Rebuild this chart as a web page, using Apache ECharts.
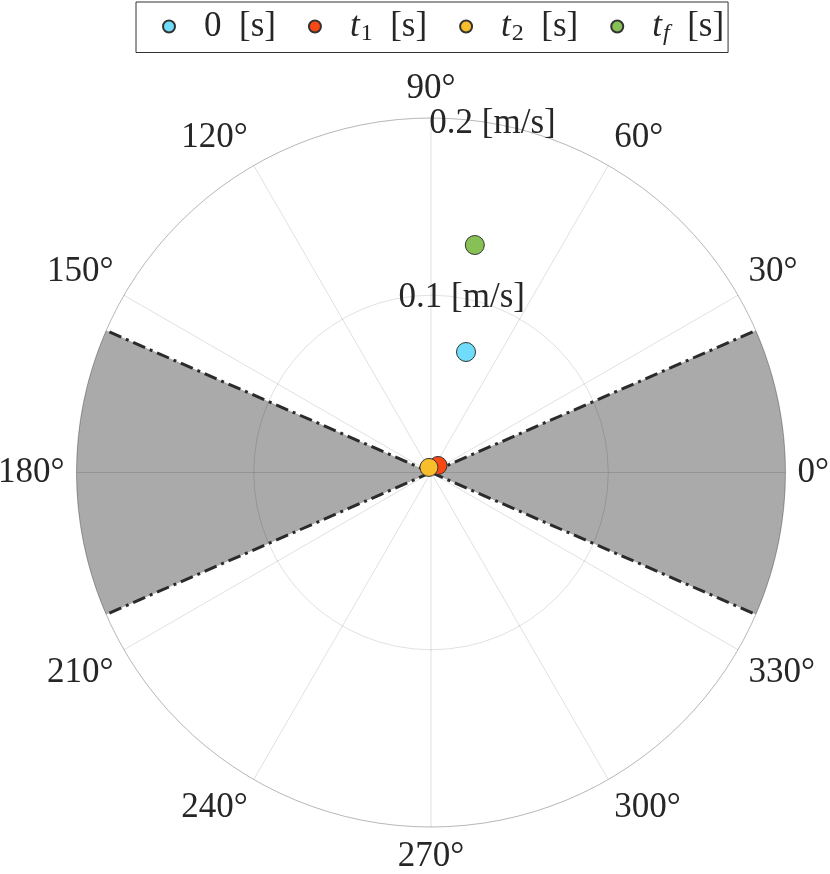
<!DOCTYPE html>
<html>
<head>
<meta charset="utf-8">
<script src="https://cdn.jsdelivr.net/npm/echarts@6/dist/echarts.min.js"></script>
<style>
  html, body { margin: 0; padding: 0; background: #fff; }
  #chart { width: 830px; height: 874px; }
</style>
</head>
<body>
<div id="chart"></div>
<script>
// ---- data ----
const seriesNames = ['0 [s]', 't1 [s]', 't2 [s]', 'tf [s]'];
const seriesColors = ['#6fdcfa', '#fa4814', '#f8bd2a', '#87c155'];
// [radius (m/s), angle (deg)]
const pointValues = [
  [0.0708, 73.8],
  [0.0056, 45],
  [0.0031, 112],
  [0.1307, 79.1]
];
const radiusMax = 0.2;
const radiusTicks = [0.1, 0.2];
const radiusLabelAngle = 80;
const angleTicks = [0, 30, 60, 90, 120, 150, 180, 210, 240, 270, 300, 330];
const wedgeCenters = [0, 180];
const wedgeHalfWidth = 23.6;

const FONT = 'Liberation Serif';
const TXT = '#262626';

const chart = echarts.init(document.getElementById('chart'));

// wedge custom series
const wedgeSeries = {
  type: 'custom',
  coordinateSystem: 'polar',
  z: -1,
  silent: true,
  data: wedgeCenters.map(c => [radiusMax, c]),
  renderItem: function (params, api) {
    const r = api.value(0);
    const c = api.value(1);
    const pts = [api.coord([0, c])];
    const n = 60;
    for (let i = 0; i <= n; i++) {
      const a = c - wedgeHalfWidth + (2 * wedgeHalfWidth) * i / n;
      pts.push(api.coord([r, a]));
    }
    return {
      type: 'polygon',
      shape: { points: pts },
      style: { fill: '#aaaaaa', stroke: null }
    };
  }
};

// dash-dot edge lines
const edgeLines = [];
wedgeCenters.forEach(c => {
  [-1, 1].forEach(s => {
    edgeLines.push({
      type: 'line',
      coordinateSystem: 'polar',
      silent: true,
      symbol: 'none',
      z: 1,
      lineStyle: { color: '#2b2b2b', width: 3, type: [13, 5, 3, 5] },
      data: [[0, c + s * wedgeHalfWidth], [radiusMax, c + s * wedgeHalfWidth]]
    });
  });
});

const pointSeries = seriesNames.map((name, i) => ({
  type: 'scatter',
  name: name,
  coordinateSystem: 'polar',
  symbol: 'circle',
  symbolSize: i === 0 || i === 3 ? 19 : 18,
  z: 3 + i,
  itemStyle: { color: seriesColors[i], borderColor: '#333333', borderWidth: 1, opacity: 1 },
  data: [pointValues[i]]
}));

const radiusLabelSeries = {
  type: 'scatter',
  name: 'rlabels',
  coordinateSystem: 'polar',
  symbolSize: 0,
  silent: true,
  z: 10,
  itemStyle: { opacity: 1, color: TXT },
  label: {
    show: true,
    position: 'inside',
    fontFamily: FONT,
    fontSize: 35,
    color: TXT,
    opacity: 1,
    textBorderWidth: 0,
    textShadowBlur: 0,
    formatter: p => p.value[0] + ' [m/s]'
  },
  data: radiusTicks.map(r => [r, radiusLabelAngle])
};

const legendRich = {
  sp: { width: 24 },
  n: { fontFamily: FONT, fontSize: 35, color: TXT, fontStyle: 'normal' },
  i: { fontFamily: FONT, fontSize: 35, color: TXT, fontStyle: 'italic' },
  sub: { fontFamily: FONT, fontSize: 24, color: TXT, fontStyle: 'normal', padding: [14, 0, 0, 1] },
  subi: { fontFamily: FONT, fontSize: 24, color: TXT, fontStyle: 'italic', padding: [14, 0, 0, 1] }
};

const option = {
  backgroundColor: '#ffffff',
  animation: false,
  textStyle: { fontFamily: FONT },
  legend: {
    data: seriesNames,
    top: 2,
    left: 136,
    orient: 'horizontal',
    padding: [7, 4, 7, 26],
    itemGap: 32,
    itemWidth: 12,
    itemHeight: 12,
    borderColor: '#333333',
    borderWidth: 1,
    backgroundColor: '#ffffff',
    textStyle: { fontFamily: FONT, fontSize: 35, color: TXT, rich: legendRich },
    formatter: function (name) {
      if (name === '0 [s]') return '{sp|}{n|0  [s]}';
      if (name === 't1 [s]') return '{sp|}{i|t}{sub|1}{n|  [s]}';
      if (name === 't2 [s]') return '{sp|}{i|t}{sub|2}{n|  [s]}';
      return '{sp|}{i|t}{subi|f}{n|  [s]}';
    }
  },
  polar: {
    center: [431, 472.5],
    radius: 354.5
  },
  angleAxis: {
    type: 'value',
    min: 0,
    max: 360,
    interval: 30,
    startAngle: 0,
    clockwise: false,
    axisLine: { show: true, lineStyle: { color: 'rgba(0,0,0,0.18)', width: 1 } },
    axisTick: { show: false },
    splitLine: { show: true, lineStyle: { color: 'rgba(0,0,0,0.12)', width: 1 } },
    axisLabel: {
      show: true,
      margin: 12,
      fontFamily: FONT,
      fontSize: 35,
      color: TXT,
      formatter: v => (angleTicks.indexOf(v) >= 0 ? v + '°' : '')
    }
  },
  radiusAxis: {
    type: 'value',
    min: 0,
    max: radiusMax,
    interval: 0.1,
    axisLine: { show: false },
    axisTick: { show: false },
    axisLabel: { show: false },
    splitLine: { show: true, lineStyle: { color: 'rgba(0,0,0,0.12)', width: 1 } }
  },
  series: [wedgeSeries].concat(edgeLines, pointSeries, [radiusLabelSeries])
};

chart.setOption(option);
</script>
</body>
</html>
